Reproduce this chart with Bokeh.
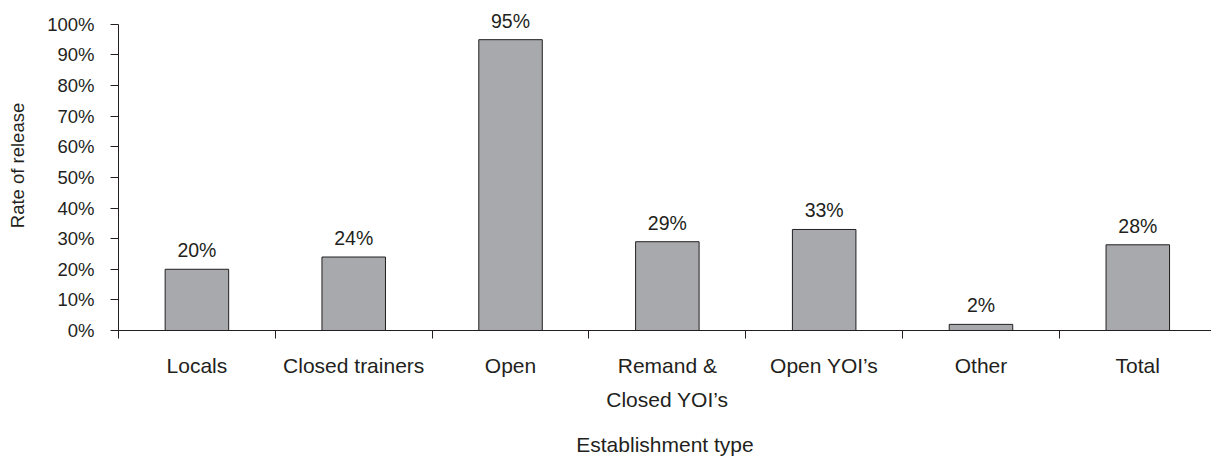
from bokeh.plotting import figure
from bokeh.models import Range1d, FixedTicker, PrintfTickFormatter, ColumnDataSource
from bokeh.embed import file_html
from bokeh.resources import INLINE
from bokeh.core.properties import value

# ---- data ----
categories = ["Locals", "Closed trainers", "Open", "Remand &\nClosed YOI\u2019s",
              "Open YOI\u2019s", "Other", "Total"]
rates = [20, 24, 95, 29, 33, 2, 28]
y_ticks = [0, 10, 20, 30, 40, 50, 60, 70, 80, 90, 100]
x_title = "Establishment type"
y_title = "Rate of release"

# ---- style ----
FONT = "Liberation Sans"
INK = "#231f20"
BAR = "#a7a9ac"

n = len(categories)
xs = [i + 0.5 for i in range(n)]
src = ColumnDataSource(dict(x=xs, rate=rates, label=[f"{r}%" for r in rates]))

p = figure(width=1211, height=459, output_backend="svg", toolbar_location=None,
           x_range=Range1d(0, 6.97), y_range=Range1d(0, 107.8),
           min_border_left=118, min_border_top=0, min_border_right=0,
           min_border_bottom=129)
p.outline_line_color = None
p.xgrid.visible = False
p.ygrid.visible = False
p.background_fill_color = "white"
p.border_fill_color = "white"

p.vbar(x="x", top="rate", bottom=0, width=0.405, source=src,
       fill_color=BAR, line_color=INK, line_width=1)
p.text(x="x", y="rate", text="label", source=src, text_align="center",
       text_baseline="alphabetic", y_offset=-19, text_font=value(FONT),
       text_font_size="19.5px", text_color=INK)

# y axis
ya = p.yaxis[0]
ya.ticker = FixedTicker(ticks=y_ticks)
ya.formatter = PrintfTickFormatter(format="%d%%")
ya.bounds = (0, 100)
ya.axis_line_color = INK
ya.major_tick_line_color = INK
ya.major_tick_in = 0
ya.major_tick_out = 8
ya.minor_tick_line_color = None
ya.major_label_standoff = 16
ya.major_label_text_font = FONT
ya.major_label_text_font_size = "18.5px"
ya.major_label_text_color = INK
ya.axis_label = y_title
ya.axis_label_text_font = FONT
ya.axis_label_text_font_size = "18.5px"
ya.axis_label_text_font_style = "normal"
ya.axis_label_text_color = INK
ya.axis_label_standoff = 16

# x axis
xa = p.xaxis[0]
xa.ticker = FixedTicker(ticks=xs, minor_ticks=list(range(n + 1)))
xa.major_label_overrides = {x: c for x, c in zip(xs, categories)}
xa.axis_line_color = INK
xa.major_tick_line_color = None
xa.major_tick_in = 0
xa.major_tick_out = 0
xa.minor_tick_line_color = INK
xa.minor_tick_in = 0
xa.minor_tick_out = 8
xa.major_label_standoff = 15
xa.major_label_text_font = FONT
xa.major_label_text_font_size = "21px"
xa.major_label_text_color = INK
xa.major_label_text_line_height = 1.5
xa.axis_label = x_title
xa.axis_label_text_font = FONT
xa.axis_label_text_font_size = "21px"
xa.axis_label_text_font_style = "normal"
xa.axis_label_text_color = INK
xa.axis_label_standoff = 19

open("out.html", "w").write(file_html(p, INLINE))
